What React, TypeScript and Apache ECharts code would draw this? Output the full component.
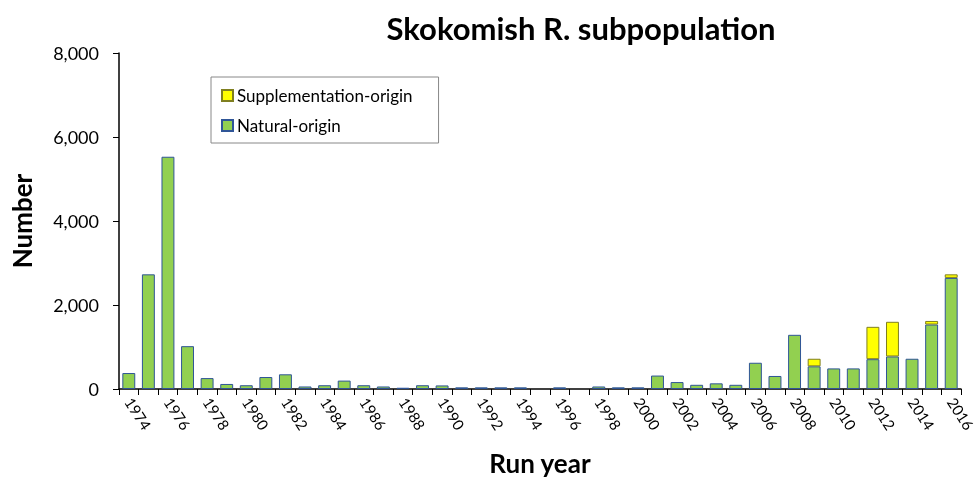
import React, { useEffect, useRef } from "react";
import * as echarts from "echarts";

const years = [
  "1974","1975","1976","1977","1978","1979","1980","1981","1982","1983",
  "1984","1985","1986","1987","1988","1989","1990","1991","1992","1993",
  "1994","1995","1996","1997","1998","1999","2000","2001","2002","2003",
  "2004","2005","2006","2007","2008","2009","2010","2011","2012","2013",
  "2014","2015","2016",
];

const naturalOrigin = [
  380, 2730, 5530, 1020, 260, 120, 90, 285, 350, 60,
  90, 200, 90, 60, 30, 90, 85, 40, 40, 40,
  40, 0, 40, 0, 60, 40, 40, 320, 165, 100,
  135, 100, 625, 310, 1290, 540, 490, 490, 710, 775,
  720, 1535, 2645,
];

const supplementationOrigin = [
  0, 0, 0, 0, 0, 0, 0, 0, 0, 0,
  0, 0, 0, 0, 0, 0, 0, 0, 0, 0,
  0, 0, 0, 0, 0, 0, 0, 0, 0, 0,
  0, 0, 0, 0, 0, 180, 0, 0, 770, 825,
  0, 85, 85,
];

const FONT = "Lato, 'Open Sans', sans-serif";

export default function App() {
  const ref = useRef<HTMLDivElement>(null);
  useEffect(() => {
    if (!ref.current) return;
    const chart = echarts.init(ref.current, undefined, { renderer: "svg" });
    chart.setOption({
      animation: false,
      textStyle: { fontFamily: FONT },
      title: {
        text: "Skokomish R. subpopulation",
        left: 576,
        top: 7,
        textAlign: "center",
        textStyle: { fontSize: 31, fontWeight: "bold", color: "#000", fontFamily: FONT },
      },
      legend: {
        data: ["Supplementation-origin", "Natural-origin"],
        orient: "vertical",
        left: 211,
        top: 77,
        borderColor: "#888",
        borderWidth: 1,
        padding: [10, 26, 9, 10],
        itemGap: 13,
        itemWidth: 11,
        itemHeight: 11,
        icon: "rect",
        textStyle: { fontSize: 17, color: "#000", fontFamily: FONT, padding: [0, 0, 0, -1] },
      },
      grid: {
        left: 119,
        right: 16,
        top: 53,
        bottom: 92,
        containLabel: false,
        outerBoundsMode: "none",
      },
      xAxis: {
        type: "category",
        data: years,
        name: "Run year",
        nameLocation: "middle",
        nameGap: 61,
        nameTextStyle: { fontSize: 26, fontWeight: "bold", color: "#000", fontFamily: FONT },
        axisLine: { lineStyle: { color: "#000", width: 1.5 } },
        axisTick: { show: true, length: 6, lineStyle: { color: "#000" }, interval: 0 },
        axisLabel: {
          interval: 1,
          rotate: -57,
          margin: 10,
          fontSize: 15,
          color: "#000",
          fontFamily: FONT,
        },
      },
      yAxis: {
        type: "value",
        min: 0,
        max: 8000,
        interval: 2000,
        name: "Number",
        nameLocation: "middle",
        nameGap: 84,
        nameTextStyle: { fontSize: 26, fontWeight: "bold", color: "#000", fontFamily: FONT },
        splitLine: { show: false },
        axisLine: { show: true, lineStyle: { color: "#000", width: 1.5 } },
        axisTick: { show: true, length: 6, lineStyle: { color: "#000" } },
        axisLabel: {
          margin: 20,
          fontSize: 18,
          color: "#000",
          fontFamily: FONT,
          formatter: (v: number) => v.toLocaleString("en-US"),
        },
      },
      series: [
        {
          name: "Natural-origin",
          type: "bar",
          stack: "total",
          data: naturalOrigin.map((v) => (v === 0 ? "-" : v)),
          barWidth: "66%",
          itemStyle: { color: "#92D050", borderColor: "#2F5597", borderWidth: 1 },
        },
        {
          name: "Supplementation-origin",
          type: "bar",
          stack: "total",
          data: supplementationOrigin.map((v) => (v === 0 ? "-" : v)),
          barWidth: "66%",
          itemStyle: { color: "#FFFF00", borderColor: "#7F7F20", borderWidth: 1 },
        },
      ],
    });
    return () => chart.dispose();
  }, []);
  return (
    <div
      ref={ref}
      style={{ position: "fixed", left: 0, top: 0, width: 977, height: 481 }}
    />
  );
}
